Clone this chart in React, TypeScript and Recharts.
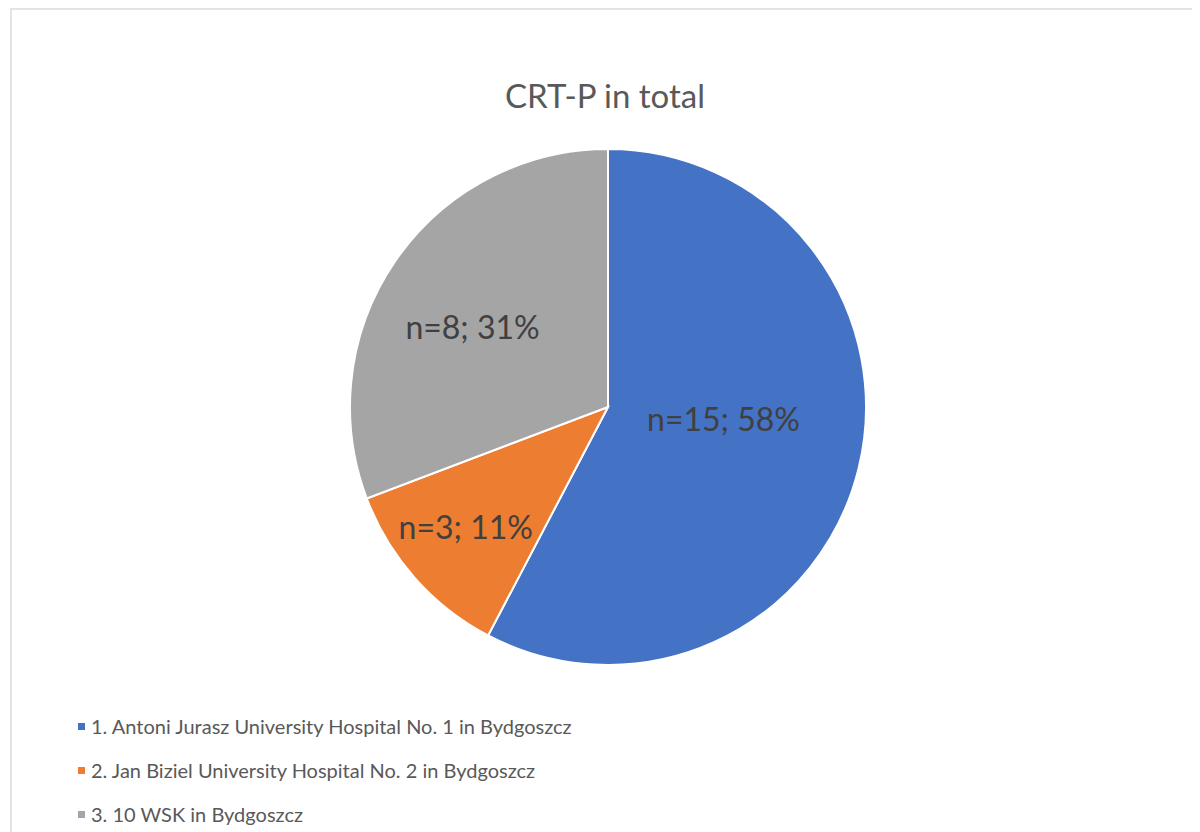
import React from "react";
import { Cell, Pie, PieChart } from "recharts";

const hospitals = [
  "1. Antoni Jurasz University Hospital No. 1 in Bydgoszcz",
  "2. Jan Biziel University Hospital No. 2 in Bydgoszcz",
  "3. 10 WSK in Bydgoszcz",
];
const counts = [15, 3, 8];
const percents = [58, 11, 31];
const colors = ["#4472c4", "#ed7d31", "#a5a5a5"];

// where Excel put the data labels (fraction of radius, angle nudge)
const labelRadius = [0.45, 0.72, 0.61];
const labelShift = [8, -1.5, 4];

const data = hospitals.map((name, i) => ({
  name,
  value: counts[i],
  label: `n=${counts[i]}; ${percents[i]}%`,
}));

const RAD = Math.PI / 180;

const renderLabel = (props: any) => {
  const { cx, cy, midAngle, outerRadius, index } = props;
  const r = outerRadius * labelRadius[index];
  const a = (midAngle + labelShift[index]) * RAD;
  const x = cx + r * Math.cos(a);
  const y = cy - r * Math.sin(a);
  return (
    <text
      x={x}
      y={y}
      fill="#404040"
      fontSize={32}
      fontFamily="Lato, sans-serif"
      textAnchor="middle"
      dominantBaseline="central"
    >
      {data[index].label}
    </text>
  );
};

export default function App() {
  return (
    <div
      style={{
        position: "relative",
        width: 1186,
        height: 840,
        marginLeft: 2,
        border: "2px solid #e3e3e3",
        background: "#fff",
      }}
    >
      <div
        style={{
          position: "absolute",
          top: 65,
          left: 0,
          width: "100%",
          textAlign: "center",
          fontFamily: "Lato, sans-serif",
          fontSize: 33,
          color: "#595959",
        }}
      >
        CRT-P in total
      </div>
      <PieChart width={1186} height={840}>
        <Pie
          data={data}
          dataKey="value"
          nameKey="name"
          cx={591}
          cy={392}
          outerRadius={258}
          startAngle={90}
          endAngle={-270}
          stroke="#ffffff"
          strokeWidth={2}
          label={renderLabel}
          labelLine={false}
          isAnimationActive={false}
        >
          {data.map((d, i) => (
            <Cell key={d.name} fill={colors[i]} />
          ))}
        </Pie>
      </PieChart>
      <div
        style={{
          position: "absolute",
          top: 694,
          left: 66,
          fontFamily: "Lato, sans-serif",
          fontSize: 20,
          color: "#595959",
        }}
      >
        {data.map((d, i) => (
          <div
            key={d.name}
            style={{ display: "flex", alignItems: "center", height: 44 }}
          >
            <span
              style={{
                width: 7,
                height: 7,
                background: colors[i],
                marginRight: 6,
                display: "inline-block",
              }}
            />
            {d.name}
          </div>
        ))}
      </div>
    </div>
  );
}
